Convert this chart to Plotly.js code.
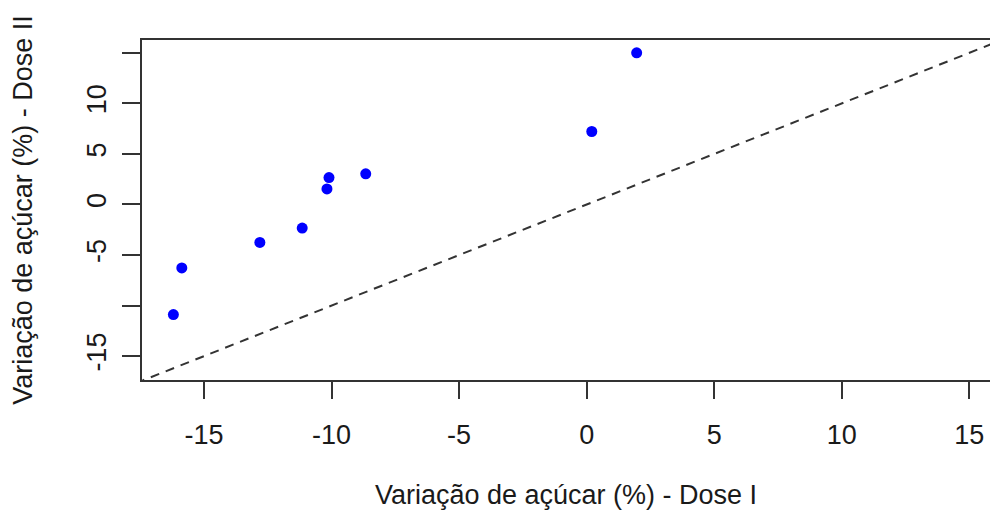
<!DOCTYPE html>
<html>
<head>
<meta charset="utf-8">
<script src="https://cdn.plot.ly/plotly-3.0.1.min.js"></script>
<style>html,body{margin:0;padding:0;background:#fff;}#chart{width:990px;height:516px;}</style>
</head>
<body>
<div id="chart"></div>
<script>
const doseI  = [1.96, 0.20, -8.66, -10.10, -10.18, -11.15, -12.81, -15.87, -16.20];
const doseII = [15.0, 7.22, 3.03, 2.66, 1.54, -2.33, -3.75, -6.27, -10.89];
const xTickVals = [-15, -10, -5, 0, 5, 10, 15];
const xTickText = ['-15', '-10', '-5', '0', '5', '10', '15'];
const yTickVals = [-15, -10, -5, 0, 5, 10, 15];
const yTickText = ['-15', '', '-5', '0', '5', '10', ''];
const identityLine = [-20, 20];
const xRange = [-17.43, 15.81];
const yRange = [-17.36, 16.27];

const font = {family: 'Liberation Sans, Arial, sans-serif', size: 27, color: '#1a1a1a'};

const traces = [
  {
    x: identityLine, y: identityLine, mode: 'lines', type: 'scatter',
    line: {color: '#333333', width: 2, dash: '9px,7px'}, hoverinfo: 'skip', showlegend: false
  },
  {
    x: doseI, y: doseII, mode: 'markers', type: 'scatter',
    marker: {color: '#0000ff', size: 11}, showlegend: false, cliponaxis: false
  }
];

const layout = {
  width: 990, height: 516,
  margin: {l: 142, r: 0, t: 40, b: 136, pad: 0},
  paper_bgcolor: '#ffffff', plot_bgcolor: '#ffffff',
  font: font,
  showlegend: false,
  xaxis: {
    range: xRange, tickvals: xTickVals, ticktext: xTickText,
    showgrid: false, zeroline: false,
    showline: true, mirror: true, linecolor: '#333333', linewidth: 2,
    ticks: 'outside', ticklen: 17, tickwidth: 2, tickcolor: '#333333',
    ticklabelstandoff: 13,
    tickfont: font,
    title: {text: 'Variação de açúcar (%) - Dose I', font: font, standoff: 36}
  },
  yaxis: {
    range: yRange, tickvals: yTickVals, ticktext: yTickText,
    showgrid: false, zeroline: false,
    showline: true, mirror: false, linecolor: '#333333', linewidth: 2,
    ticks: 'outside', ticklen: 18, tickwidth: 2, tickcolor: '#333333',
    ticklabelstandoff: 5,
    tickangle: -90,
    tickfont: font,
    title: {text: 'Variação de açúcar (%) - Dose II', font: font, standoff: 42}
  }
};

Plotly.newPlot('chart', traces, layout, {staticPlot: true, displayModeBar: false});
</script>
</body>
</html>
